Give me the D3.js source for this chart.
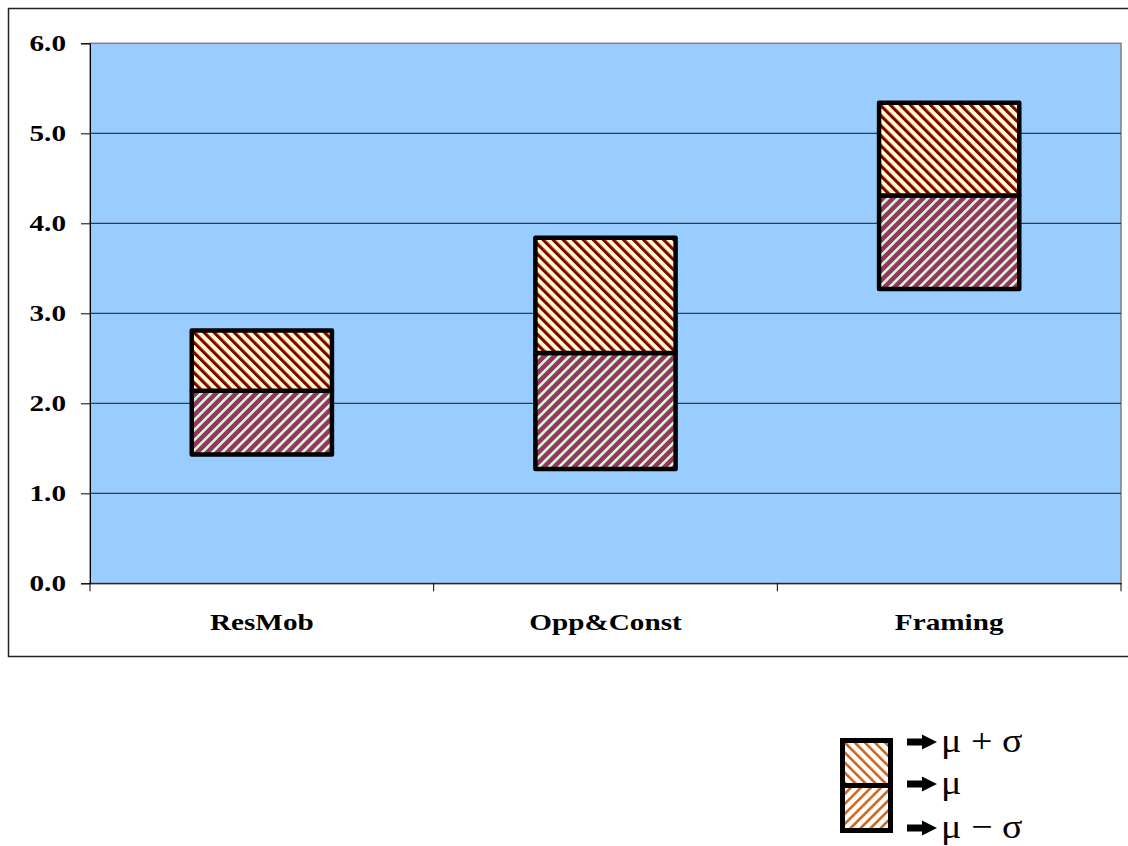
<!DOCTYPE html>
<html lang="en">
<head>
  <meta charset="UTF-8">
  <title>Mean and standard deviation by category</title>
  <script src="https://d3js.org/d3.v7.min.js"></script>
  <style>
    body { margin: 0; background: #fff; }
    svg { display: block; }
    .tick text { font-family: "Liberation Serif", "Times New Roman", serif; font-weight: bold; fill: #000; }
  </style>
</head>
<body>
  <svg width="1128" height="846"></svg>

  <script>
    // chart data
    const categories = ["ResMob", "Opp&Const", "Framing"];
    const lowerValues = [1.43, 1.27, 3.27];   // mu - sigma
    const meanValues  = [2.14, 2.56, 4.31];   // mu
    const upperValues = [2.81, 3.84, 5.34];   // mu + sigma
    const yTicks = [0, 1, 2, 3, 4, 5, 6];
    const legendLabels = ["μ + σ", "μ", "μ − σ"];

    const svg = d3.select("svg");
    const stretch = 1.27; // text in the original is drawn wide

    const plot = { left: 90, right: 1121, top: 43.3, bottom: 583.3 };

    const x = d3.scaleBand().domain(categories).range([plot.left, plot.right]);
    const y = d3.scaleLinear().domain([0, 6]).range([plot.bottom, plot.top]);

    // hatch patterns
    const defs = svg.append("defs");
    function hatch(id, bg, fg, period, lineW, angle) {
      const p = defs.append("pattern")
        .attr("id", id)
        .attr("patternUnits", "userSpaceOnUse")
        .attr("width", period)
        .attr("height", period)
        .attr("patternTransform", `rotate(${angle})`);
      p.append("rect").attr("width", period).attr("height", period).attr("fill", bg);
      p.append("rect").attr("width", lineW).attr("height", period).attr("fill", fg);
    }
    hatch("upperHatch", "#FFFFCC", "#800000", 7.1, 3.1, -45);
    hatch("lowerHatch", "#993366", "#CCFFCC", 7.1, 2.6, 45);
    hatch("legendUpper", "#FFFFFF", "#D2691E", 7.1, 2.6, -45);
    hatch("legendLower", "#FFFFFF", "#D2691E", 7.1, 2.6, 45);

    // outer frame
    svg.append("rect")
      .attr("x", 8.5).attr("y", 8.5)
      .attr("width", 1140).attr("height", 648)
      .attr("fill", "none").attr("stroke", "#222").attr("stroke-width", 1.5);

    // plot background
    svg.append("rect")
      .attr("x", plot.left).attr("y", plot.top)
      .attr("width", plot.right - plot.left).attr("height", plot.bottom - plot.top)
      .attr("fill", "#99CCFF")
      .attr("stroke", "#808080").attr("stroke-width", 1.5);

    // gridlines
    svg.append("g")
      .selectAll("line")
      .data(yTicks.filter(d => d > 0 && d < 6))
      .enter().append("line")
      .attr("x1", plot.left).attr("x2", plot.right)
      .attr("y1", d => y(d)).attr("y2", d => y(d))
      .attr("stroke", "#1a1a1a").attr("stroke-width", 1);

    // y axis
    const yAxis = svg.append("g")
      .attr("transform", `translate(${plot.left},0)`)
      .call(d3.axisLeft(y).tickValues(yTicks).tickFormat(d3.format(".1f")).tickSize(9));
    yAxis.select(".domain").attr("stroke", "#000");
    yAxis.selectAll(".tick line").attr("stroke", "#000");
    yAxis.selectAll(".tick text")
      .attr("font-size", 23)
      .attr("x", -24 / stretch)
      .attr("dy", "0.33em")
      .attr("transform", `scale(${stretch},1)`);

    // x axis
    const xAxis = svg.append("g")
      .attr("transform", `translate(0,${plot.bottom})`)
      .call(d3.axisBottom(x).tickSize(0).tickPadding(30));
    xAxis.select(".domain").attr("stroke", "#000");
    xAxis.selectAll(".tick text")
      .attr("font-size", 23)
      .attr("transform", `scale(${stretch},1)`);

    const bounds = categories.map(c => x(c)).concat([plot.right]);
    svg.append("g")
      .selectAll("line")
      .data(bounds)
      .enter().append("line")
      .attr("x1", d => d).attr("x2", d => d)
      .attr("y1", plot.bottom).attr("y2", plot.bottom + 8)
      .attr("stroke", "#000");

    // boxes: lower half (mu-sigma to mu) and upper half (mu to mu+sigma)
    const barW = x.bandwidth() * 0.408;
    const bars = categories.map((c, i) => ({
      cat: c, lo: lowerValues[i], mid: meanValues[i], hi: upperValues[i]
    }));

    const barG = svg.append("g");
    barG.selectAll("rect.lower")
      .data(bars)
      .enter().append("rect")
      .attr("class", "lower")
      .attr("x", d => x(d.cat) + (x.bandwidth() - barW) / 2)
      .attr("width", barW)
      .attr("y", d => y(d.mid))
      .attr("height", d => y(d.lo) - y(d.mid))
      .attr("fill", "url(#lowerHatch)")
      .attr("stroke", "#000").attr("stroke-width", 4.5)
      .attr("stroke-linejoin", "round");

    barG.selectAll("rect.upper")
      .data(bars)
      .enter().append("rect")
      .attr("class", "upper")
      .attr("x", d => x(d.cat) + (x.bandwidth() - barW) / 2)
      .attr("width", barW)
      .attr("y", d => y(d.hi))
      .attr("height", d => y(d.mid) - y(d.hi))
      .attr("fill", "url(#upperHatch)")
      .attr("stroke", "#000").attr("stroke-width", 4.5)
      .attr("stroke-linejoin", "round");

    // legend
    const legend = svg.append("g");
    const lgBox = { x: 842.5, y: 740.5, w: 48, h: 90 };
    legend.append("rect")
      .attr("x", lgBox.x).attr("y", lgBox.y)
      .attr("width", lgBox.w).attr("height", lgBox.h / 2)
      .attr("fill", "url(#legendUpper)")
      .attr("stroke", "#000").attr("stroke-width", 5);
    legend.append("rect")
      .attr("x", lgBox.x).attr("y", lgBox.y + lgBox.h / 2)
      .attr("width", lgBox.w).attr("height", lgBox.h / 2)
      .attr("fill", "url(#legendLower)")
      .attr("stroke", "#000").attr("stroke-width", 5);

    const rowY = [742, 784, 828];
    const row = legend.selectAll("g.row")
      .data(legendLabels)
      .enter().append("g")
      .attr("class", "row")
      .attr("transform", (d, i) => `translate(907,${rowY[i]})`);

    row.append("path")
      .attr("d", "M0,-3.5 L15,-3.5 L15,-7.5 L30,0 L15,7.5 L15,3.5 L0,3.5 Z")
      .attr("fill", "#000");

    row.append("text")
      .attr("x", 34 / 1.12)
      .attr("y", 0)
      .attr("dy", "0.3em")
      .attr("transform", "scale(1.12,1)")
      .attr("font-family", "'Liberation Serif', 'Times New Roman', serif")
      .attr("font-size", 34)
      .text(d => d);
  </script>
</body>
</html>
